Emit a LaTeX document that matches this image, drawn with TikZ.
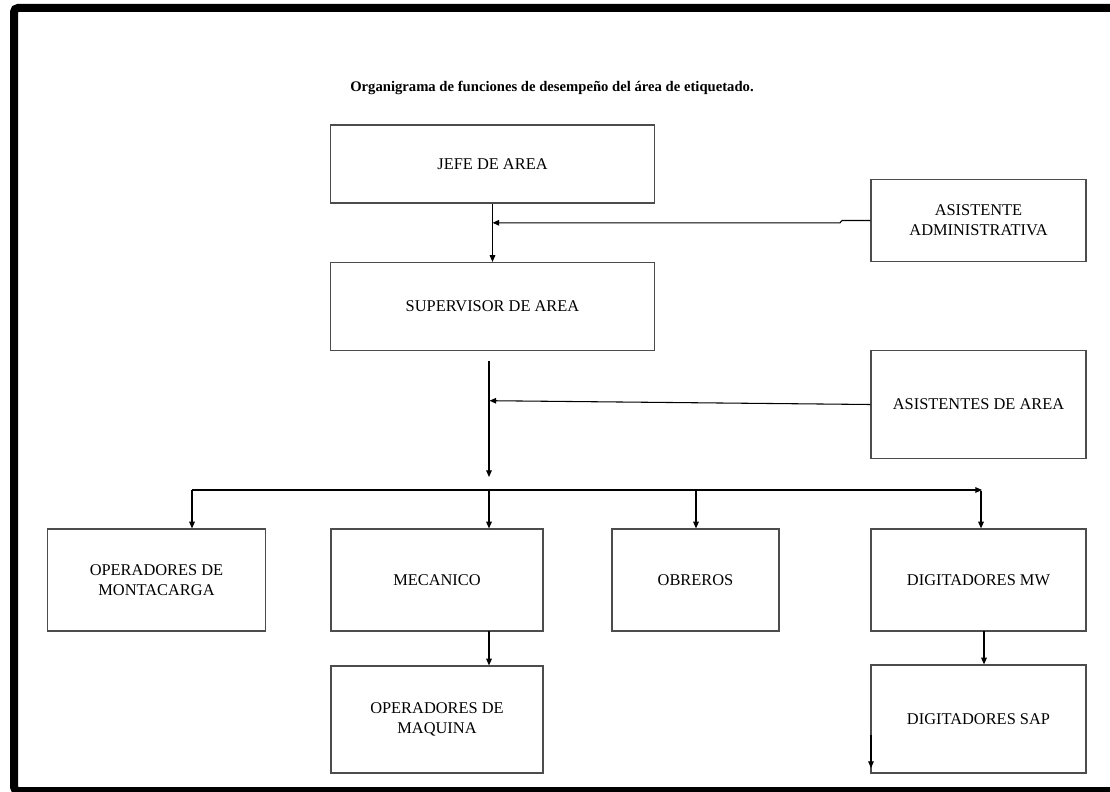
\documentclass[tikz,border=0pt]{standalone}
\usepackage{fontspec}
\setmainfont{Liberation Serif}
\usetikzlibrary{arrows.meta}
% one drawing unit = one pixel of the layout grid
\newdimen\pxu \pxu=0.75pt
\begin{document}
\begin{tikzpicture}[x=0.75pt,y=-0.75pt,
  box/.style={draw=black!70, line width=0.9pt, rectangle, inner sep=0pt,
    align=center, font=\fontsize{12.3}{15}\selectfont},
  conn/.style={draw=black, line width=0.8pt},
  arr/.style={conn, -{Triangle[length=5pt,width=4.2pt]}},
  title/.style={font=\bfseries\fontsize{11}{13}\selectfont},
]
\useasboundingbox (0,0) rectangle (1110,792);
\fill[white] (0,0) rectangle (1110,792);
% page frame
\draw[line width=6pt, rounded corners=3pt] (1125,8) -- (14,8) -- (14,791) -- (1125,791);

\node[title] (ttl) at (552,88) {Organigrama de funciones de desempeño del área de etiquetado.};

% boxes
\node[box, minimum width=324\pxu, minimum height=78\pxu]  (jefe)   at (492.5,164)  {JEFE DE AREA};
\node[box, minimum width=324\pxu, minimum height=88\pxu]  (sup)    at (492.5,306.5){SUPERVISOR DE AREA};
\node[box, minimum width=215\pxu, minimum height=82\pxu]  (asadm)  at (978.5,220.5){ASISTENTE\\ADMINISTRATIVA};
\node[box, minimum width=215\pxu, minimum height=108\pxu] (asarea) at (978.5,404.5){ASISTENTES DE AREA};
\node[box, minimum width=218\pxu, minimum height=102\pxu] (montac) at (156.5,580)  {OPERADORES DE\\MONTACARGA};
\node[box, minimum width=212\pxu, minimum height=102\pxu] (mec)    at (437,580)    {MECANICO};
\node[box, minimum width=167\pxu, minimum height=102\pxu] (obr)    at (695.5,580)  {OBREROS};
\node[box, minimum width=215\pxu, minimum height=102\pxu] (digmw)  at (978.5,580)  {DIGITADORES MW};
\node[box, minimum width=212\pxu, minimum height=107\pxu] (opmaq)  at (437,719.5)  {OPERADORES DE\\MAQUINA};
\node[box, minimum width=215\pxu, minimum height=108\pxu] (digsap) at (978.5,719)  {DIGITADORES SAP};

% jefe -> supervisor, with the assistant joining the line
\draw[arr] (jefe.south) -- (sup.north);
\coordinate (ja) at (842,220.5);
\coordinate (jb) at (840,222.8);
\draw[arr] (asadm.west) -- (ja) -- (jb) -- (jb -| jefe.south);

% supervisor spine down to the distribution bar
\coordinate (sp0) at (489,361);
\coordinate (sp1) at (489,477);
\draw[arr] (sp0) -- (sp1);
\coordinate (aa) at (489.5,400.7);
\draw[arr] (asarea.west) -- (aa);

% distribution bar
\coordinate (bl) at (192,490);
\coordinate (br) at (982,490);
\draw[arr] (bl) -- (br);
\coordinate (bm) at (489,490);
\coordinate (bo) at (696,490);
\coordinate (bd) at (981,491);
\draw[arr] (bl) -- (bl |- montac.north);
\draw[arr] (bm) -- (bm |- mec.north);
\draw[arr] (bo) -- (bo |- obr.north);
\draw[arr] (bd) -- (bd |- digmw.north);

% second level
\coordinate (mq) at (489,631);
\draw[arr] (mq) -- (mq |- opmaq.north);
\coordinate (dq) at (984,631);
\draw[arr] (dq) -- (dq |- digsap.north);

% short arrow along the left side of the SAP box
\coordinate (s0) at (871,735);
\coordinate (s1) at (871,768);
\draw[arr] (s0) -- (s1);
\end{tikzpicture}
\end{document}
